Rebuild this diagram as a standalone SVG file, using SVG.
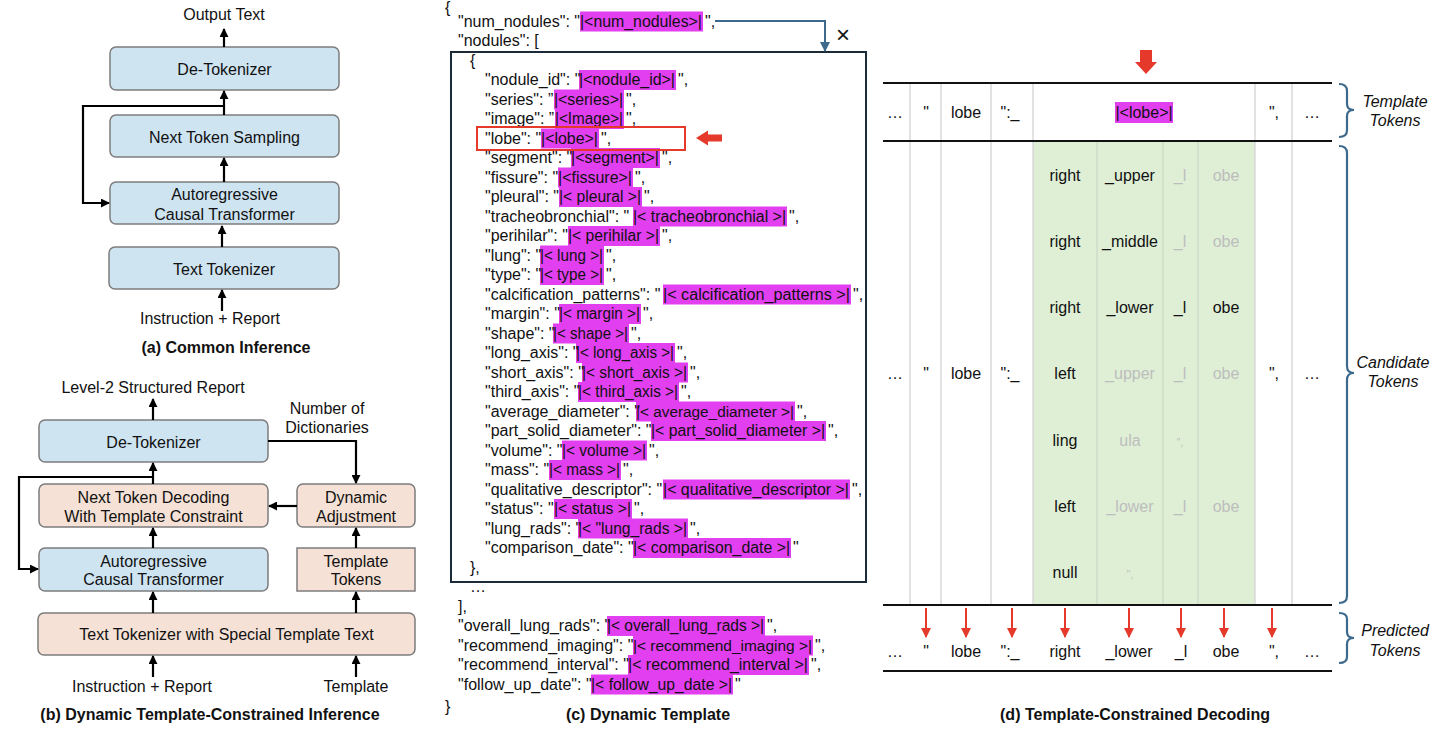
<svg xmlns="http://www.w3.org/2000/svg" width="1450" height="750" viewBox="0 0 1450 750">
<defs>
<style>
.t{font-family:"Liberation Sans",Arial,Helvetica,sans-serif;font-size:16px;fill:#111}
.c{text-anchor:middle}
.b{font-weight:bold}
.i{font-style:italic}
.s{font-size:15.2px}
.bb{fill:#cfe4f1;stroke:#7c7c7c;stroke-width:1.5}
.bp{fill:#f5e1d5;stroke:#7c7c7c;stroke-width:1.5}
.arr{stroke:#000;stroke-width:2.2;fill:none;marker-end:url(#ah)}
.hl{fill:#e13ff0}
.g{fill:#bdbdbd}
.sep{stroke:#d8d8d8;stroke-width:1.5}
.rule{stroke:#111;stroke-width:2}
.brace{stroke:#3d6a8c;stroke-width:2.2;fill:none}
.ra{stroke:#e53a2b;stroke-width:2;marker-end:url(#rah)}
</style>
<marker id="ah" viewBox="0 0 10 10" refX="9" refY="5" markerWidth="9" markerHeight="9" markerUnits="userSpaceOnUse" orient="auto"><path d="M0,0 L10,5 L0,10 z" fill="#000"/></marker>
<marker id="rah" viewBox="0 0 10 10" refX="9" refY="5" markerWidth="10" markerHeight="10" markerUnits="userSpaceOnUse" orient="auto"><path d="M0,0 L10,5 L0,10 z" fill="#e53a2b"/></marker>
<marker id="bah" viewBox="0 0 10 10" refX="9" refY="5" markerWidth="10" markerHeight="10" markerUnits="userSpaceOnUse" orient="auto"><path d="M0,0 L10,5 L0,10 z" fill="#3d6a8c"/></marker>
</defs>
<rect width="1450" height="750" fill="#fff"/>

<!-- Panel (a) -->
<g id="a-nodes">
<g id="a-output"><text class="t c" x="224" y="20">Output Text</text></g>
<g id="a-detok"><rect class="bb" x="110" y="47" width="229" height="43" rx="6"/><text class="t c" x="224.5" y="75">De-Tokenizer</text></g>
<g id="a-sampling"><rect class="bb" x="110" y="115" width="229" height="42" rx="6"/><text class="t c" x="224.5" y="143">Next Token Sampling</text></g>
<g id="a-transformer"><rect class="bb" x="110" y="182" width="229" height="42" rx="6"/><text class="t c" x="224.5" y="200">Autoregressive</text><text class="t c" x="224.5" y="220">Causal Transformer</text></g>
<g id="a-tokenizer"><rect class="bb" x="109" y="247" width="230" height="42" rx="6"/><text class="t c" x="224" y="275">Text Tokenizer</text></g>
<g id="a-input"><text class="t c" x="210" y="324">Instruction + Report</text></g>
<g id="a-caption"><text class="t c b" x="226" y="353">(a) Common Inference</text></g>
</g>
<g id="a-connectors">
<line class="arr" x1="224" y1="47" x2="224" y2="29"/>
<line class="arr" x1="224" y1="115" x2="224" y2="91"/>
<polyline class="arr" points="224,106 83,106 83,203 109,203"/>
<line class="arr" x1="224" y1="182" x2="224" y2="158"/>
<line class="arr" x1="222" y1="247" x2="222" y2="226"/>
<line class="arr" x1="222" y1="311" x2="222" y2="290"/>
</g>

<!-- Panel (b) -->
<g id="b-nodes">
<g id="b-output"><text class="t c" x="153" y="393">Level-2 Structured Report</text></g>
<g id="b-num"><text class="t c" x="327" y="414">Number of</text><text class="t c" x="327" y="433">Dictionaries</text></g>
<g id="b-detok"><rect class="bb" x="39" y="420" width="229" height="42" rx="6"/><text class="t c" x="153.5" y="448">De-Tokenizer</text></g>
<g id="b-decoding"><rect class="bp" x="39" y="484" width="229" height="43" rx="6"/><text class="t c" x="153.5" y="503">Next Token Decoding</text><text class="t c" x="153.5" y="522">With Template Constraint</text></g>
<g id="b-dynamic"><rect class="bp" x="297" y="484" width="118" height="43" rx="6"/><text class="t c" x="356" y="503">Dynamic</text><text class="t c" x="356" y="522">Adjustment</text></g>
<g id="b-transformer"><rect class="bb" x="39" y="548" width="229" height="43" rx="6"/><text class="t c" x="153.5" y="567">Autoregressive</text><text class="t c" x="153.5" y="585">Causal Transformer</text></g>
<g id="b-template-tokens"><rect class="bp" x="297" y="548" width="118" height="43"/><text class="t c" x="356" y="567">Template</text><text class="t c" x="356" y="585">Tokens</text></g>
<g id="b-tokenizer"><rect class="bp" x="38" y="613" width="377" height="42" rx="6"/><text class="t c" x="226.5" y="640">Text Tokenizer with Special Template Text</text></g>
<g id="b-input1"><text class="t c" x="142" y="692">Instruction + Report</text></g>
<g id="b-input2"><text class="t c" x="356" y="692">Template</text></g>
<g id="b-caption"><text class="t c b" x="210" y="720">(b) Dynamic Template-Constrained Inference</text></g>
</g>
<g id="b-connectors">
<line class="arr" x1="153" y1="420" x2="153" y2="399"/>
<polyline class="arr" points="268,441 356,441 356,483"/>
<line class="arr" x1="297" y1="506" x2="269" y2="506"/>
<line class="arr" x1="153" y1="484" x2="153" y2="463"/>
<polyline class="arr" points="153,477 19,477 19,569 38,569"/>
<line class="arr" x1="153" y1="548" x2="153" y2="528"/>
<line class="arr" x1="356" y1="548" x2="356" y2="528"/>
<line class="arr" x1="153" y1="613" x2="153" y2="592"/>
<line class="arr" x1="356" y1="613" x2="356" y2="592"/>
<line class="arr" x1="153" y1="677" x2="153" y2="656"/>
<line class="arr" x1="356" y1="677" x2="356" y2="656"/>
</g>

<!-- Panel (c) -->
<g id="c-template">
<rect x="451" y="52" width="415" height="530" fill="none" stroke="#1c2b3a" stroke-width="2"/>
<g id="c-highlights">
<rect class="hl" x="580" y="11.5" width="123" height="20"/>
<rect class="hl" x="579" y="70" width="97" height="20"/>
<rect class="hl" x="554" y="89.5" width="70" height="20"/>
<rect class="hl" x="555" y="109" width="69" height="20"/>
<rect class="hl" x="541" y="128.5" width="58" height="20"/>
<rect class="hl" x="571" y="148" width="89" height="20"/>
<rect class="hl" x="558" y="167.5" width="75" height="20"/>
<rect class="hl" x="559" y="187" width="83" height="20"/>
<rect class="hl" x="633" y="206.5" width="154" height="20"/>
<rect class="hl" x="568" y="226" width="92" height="20"/>
<rect class="hl" x="540" y="245.5" width="64" height="20"/>
<rect class="hl" x="540" y="265" width="64" height="20"/>
<rect class="hl" x="663" y="284.5" width="188" height="20"/>
<rect class="hl" x="559" y="304" width="82" height="20"/>
<rect class="hl" x="553" y="323.5" width="76" height="20"/>
<rect class="hl" x="576" y="343" width="99" height="20"/>
<rect class="hl" x="582" y="362.5" width="106" height="20"/>
<rect class="hl" x="578" y="382" width="101" height="20"/>
<rect class="hl" x="636" y="401.5" width="159" height="20"/>
<rect class="hl" x="651" y="421" width="175" height="20"/>
<rect class="hl" x="562" y="440.5" width="85" height="20"/>
<rect class="hl" x="549" y="460" width="72" height="20"/>
<rect class="hl" x="663" y="479.5" width="187" height="20"/>
<rect class="hl" x="554" y="499" width="78" height="20"/>
<rect class="hl" x="578" y="518.5" width="110" height="20"/>
<rect class="hl" x="633" y="538" width="158" height="20"/>
<rect class="hl" x="607" y="616" width="158" height="20"/>
<rect class="hl" x="633" y="635.5" width="180" height="20"/>
<rect class="hl" x="628" y="655" width="181" height="20"/>
<rect class="hl" x="591" y="674.5" width="142" height="20"/>
</g>
<g id="c-text" class="t">
<text class="t" x="445" y="13">{</text>
<text class="t" x="458" y="26.5">"num_nodules": "</text><text class="t" x="580" y="26.5" textLength="122" lengthAdjust="spacingAndGlyphs">|&lt;num_nodules&gt;|</text><text class="t" x="705" y="26.5">",</text>
<text class="t" x="458" y="46">"nodules": [</text>
<text class="t" x="470" y="65.5">{</text>
<text class="t" x="485" y="85">"nodule_id": "</text><text class="t" x="579" y="85" textLength="96" lengthAdjust="spacingAndGlyphs">|&lt;nodule_id&gt;|</text><text class="t" x="678" y="85">",</text>
<text class="t" x="485" y="104.5">"series": ”</text><text class="t" x="554" y="104.5" textLength="69" lengthAdjust="spacingAndGlyphs">|&lt;series&gt;|</text><text class="t" x="626" y="104.5">",</text>
<text class="t" x="485" y="124">"image": ”</text><text class="t" x="555" y="124" textLength="68" lengthAdjust="spacingAndGlyphs">|&lt;Image&gt;|</text><text class="t" x="626" y="124">",</text>
<text class="t" x="485" y="143.5">"lobe": "</text><text class="t" x="541" y="143.5" textLength="57" lengthAdjust="spacingAndGlyphs">|&lt;lobe&gt;|</text><text class="t" x="601" y="143.5">",</text>
<text class="t" x="485" y="163">"segment": "</text><text class="t" x="571" y="163" textLength="88" lengthAdjust="spacingAndGlyphs">|&lt;segment&gt;|</text><text class="t" x="662" y="163">",</text>
<text class="t" x="485" y="182.5">"fissure": "</text><text class="t" x="558" y="182.5" textLength="74" lengthAdjust="spacingAndGlyphs">|&lt;fissure&gt;|</text><text class="t" x="635" y="182.5">",</text>
<text class="t" x="485" y="202">"pleural": "</text><text class="t" x="559" y="202" textLength="82" lengthAdjust="spacingAndGlyphs">|&lt; pleural &gt;|</text><text class="t" x="644" y="202">",</text>
<text class="t" x="485" y="221.5">"tracheobronchial": "</text><text class="t" x="633" y="221.5" textLength="153" lengthAdjust="spacingAndGlyphs">|&lt; tracheobronchial &gt;|</text><text class="t" x="789" y="221.5">",</text>
<text class="t" x="485" y="241">"perihilar": "</text><text class="t" x="568" y="241" textLength="91" lengthAdjust="spacingAndGlyphs">|&lt; perihilar &gt;|</text><text class="t" x="662" y="241">",</text>
<text class="t" x="485" y="260.5">"lung": "</text><text class="t" x="540" y="260.5" textLength="63" lengthAdjust="spacingAndGlyphs">|&lt; lung &gt;|</text><text class="t" x="606" y="260.5">",</text>
<text class="t" x="485" y="280">"type": "</text><text class="t" x="540" y="280" textLength="63" lengthAdjust="spacingAndGlyphs">|&lt; type &gt;|</text><text class="t" x="606" y="280">",</text>
<text class="t" x="485" y="299.5">"calcification_patterns": "</text><text class="t" x="663" y="299.5" textLength="187" lengthAdjust="spacingAndGlyphs">|&lt; calcification_patterns &gt;|</text><text class="t" x="853" y="299.5">",</text>
<text class="t" x="485" y="319">"margin": "</text><text class="t" x="559" y="319" textLength="81" lengthAdjust="spacingAndGlyphs">|&lt; margin &gt;|</text><text class="t" x="643" y="319">",</text>
<text class="t" x="485" y="338.5">"shape": "</text><text class="t" x="553" y="338.5" textLength="75" lengthAdjust="spacingAndGlyphs">|&lt; shape &gt;|</text><text class="t" x="631" y="338.5">",</text>
<text class="t" x="485" y="358">"long_axis": "</text><text class="t" x="576" y="358" textLength="98" lengthAdjust="spacingAndGlyphs">|&lt; long_axis &gt;|</text><text class="t" x="677" y="358">",</text>
<text class="t" x="485" y="377.5">"short_axis": "</text><text class="t" x="582" y="377.5" textLength="105" lengthAdjust="spacingAndGlyphs">|&lt; short_axis &gt;|</text><text class="t" x="690" y="377.5">",</text>
<text class="t" x="485" y="397">"third_axis": "</text><text class="t" x="578" y="397" textLength="100" lengthAdjust="spacingAndGlyphs">|&lt; third_axis &gt;|</text><text class="t" x="681" y="397">",</text>
<text class="t" x="485" y="416.5">"average_diameter": "</text><text class="t s" x="636" y="416.5" textLength="158" lengthAdjust="spacingAndGlyphs">|&lt; average_diameter &gt;|</text><text class="t" x="797" y="416.5">",</text>
<text class="t" x="485" y="436">"part_solid_diameter": "</text><text class="t" x="651" y="436" textLength="174" lengthAdjust="spacingAndGlyphs">|&lt; part_solid_diameter &gt;|</text><text class="t" x="828" y="436">",</text>
<text class="t" x="485" y="455.5">"volume": "</text><text class="t" x="562" y="455.5" textLength="84" lengthAdjust="spacingAndGlyphs">|&lt; volume &gt;|</text><text class="t" x="649" y="455.5">",</text>
<text class="t" x="485" y="475">"mass": "</text><text class="t" x="549" y="475" textLength="71" lengthAdjust="spacingAndGlyphs">|&lt; mass &gt;|</text><text class="t" x="623" y="475">",</text>
<text class="t" x="485" y="494.5">"qualitative_descriptor": "</text><text class="t" x="663" y="494.5" textLength="186" lengthAdjust="spacingAndGlyphs">|&lt; qualitative_descriptor &gt;|</text><text class="t" x="852" y="494.5">",</text>
<text class="t" x="485" y="514">"status": "</text><text class="t" x="554" y="514" textLength="77" lengthAdjust="spacingAndGlyphs">|&lt; status &gt;|</text><text class="t" x="634" y="514">",</text>
<text class="t" x="485" y="533.5">"lung_rads": "</text><text class="t" x="578" y="533.5" textLength="109" lengthAdjust="spacingAndGlyphs">|&lt; "lung_rads &gt;|</text><text class="t" x="690" y="533.5">",</text>
<text class="t" x="485" y="553">"comparison_date": "</text><text class="t" x="633" y="553" textLength="157" lengthAdjust="spacingAndGlyphs">|&lt; comparison_date &gt;|</text><text class="t" x="793" y="553">"</text>
<text class="t" x="470" y="572.5">},</text>
<text class="t" x="470" y="592">…</text>
<text class="t" x="458" y="611.5">],</text>
<text class="t" x="458" y="631">"overall_lung_rads": "</text><text class="t" x="607" y="631" textLength="157" lengthAdjust="spacingAndGlyphs">|&lt; overall_lung_rads &gt;|</text><text class="t" x="767" y="631">",</text>
<text class="t" x="458" y="650.5">"recommend_imaging": "</text><text class="t s" x="633" y="650.5" textLength="179" lengthAdjust="spacingAndGlyphs">|&lt; recommend_imaging &gt;|</text><text class="t" x="815" y="650.5">",</text>
<text class="t" x="458" y="670">"recommend_interval": "</text><text class="t" x="628" y="670" textLength="180" lengthAdjust="spacingAndGlyphs">|&lt; recommend_interval &gt;|</text><text class="t" x="811" y="670">",</text>
<text class="t" x="458" y="689.5">"follow_up_date": "</text><text class="t" x="591" y="689.5" textLength="141" lengthAdjust="spacingAndGlyphs">|&lt; follow_up_date &gt;|</text><text class="t" x="735" y="689.5">"</text>
<text class="t" x="445" y="712">}</text>
</g>
<rect x="477" y="127" width="208" height="23" fill="none" stroke="#e53a2b" stroke-width="2"/>
<polygon points="696,138 708,130.5 708,134.5 722,134.5 722,141.5 708,141.5 708,145.5" fill="#e53a2b"/>
<polyline points="715,21 825,21 825,51" fill="none" stroke="#3d6a8c" stroke-width="2" marker-end="url(#bah)"/>
<text class="t" x="843" y="43" text-anchor="middle" style="font-size:24px">×</text>
<text class="t c b" x="648" y="720">(c) Dynamic Template</text>
</g>

<!-- Panel (d) -->
<g id="d-decoding">
<rect x="1033" y="141" width="222" height="464" fill="#dfefd6"/>
<g id="d-separators">
<line class="sep" x1="910" y1="83" x2="910" y2="605"/>
<line class="sep" x1="941" y1="83" x2="941" y2="605"/>
<line class="sep" x1="991" y1="83" x2="991" y2="605"/>
<line class="sep" x1="1033" y1="83" x2="1033" y2="605"/>
<line class="sep" x1="1255" y1="83" x2="1255" y2="605"/>
<line class="sep" x1="1292" y1="83" x2="1292" y2="605"/>
<line class="sep" x1="1097" y1="141" x2="1097" y2="605" style="stroke:#cfdcc8"/>
<line class="sep" x1="1163" y1="141" x2="1163" y2="605" style="stroke:#cfdcc8"/>
<line class="sep" x1="1198" y1="141" x2="1198" y2="605" style="stroke:#cfdcc8"/>
</g>
<line class="rule" x1="883" y1="83" x2="1332" y2="83"/>
<line class="rule" x1="883" y1="141" x2="1332" y2="141"/>
<line class="rule" x1="883" y1="605" x2="1332" y2="605"/>
<line class="rule" x1="883" y1="671" x2="1332" y2="671"/>
<polygon points="1140,50 1152,50 1152,62 1157,62 1146,74 1135,62 1140,62" fill="#e53a2b"/>
<g id="d-template-row">
<text class="t c" x="895" y="118">…</text>
<text class="t c" x="926" y="118">"</text>
<text class="t c" x="966" y="118">lobe</text>
<text class="t c" x="1010" y="118">":_</text>
<rect class="hl" x="1115" y="102" width="58" height="21"/>
<text class="t c" x="1144" y="118">|&lt;lobe&gt;|</text>
<text class="t c" x="1274" y="118">",</text>
<text class="t c" x="1312" y="118">…</text>
</g>
<g id="d-candidates">
<text class="t c" x="1065" y="181">right</text><text class="t c" x="1130" y="181">_upper</text><text class="t c g" x="1180" y="181">_l</text><text class="t c g" x="1226" y="181">obe</text>
<text class="t c" x="1065" y="247">right</text><text class="t c" x="1130" y="247">_middle</text><text class="t c g" x="1180" y="247">_l</text><text class="t c g" x="1226" y="247">obe</text>
<text class="t c" x="1065" y="313">right</text><text class="t c" x="1130" y="313">_lower</text><text class="t c" x="1180" y="313">_l</text><text class="t c" x="1226" y="313">obe</text>
<text class="t c" x="895" y="379">…</text><text class="t c" x="926" y="379">"</text><text class="t c" x="966" y="379">lobe</text><text class="t c" x="1010" y="379">":_</text>
<text class="t c" x="1065" y="379">left</text><text class="t c g" x="1130" y="379">_upper</text><text class="t c g" x="1180" y="379">_l</text><text class="t c g" x="1226" y="379">obe</text>
<text class="t c" x="1274" y="379">",</text><text class="t c" x="1312" y="379">…</text>
<text class="t c" x="1065" y="446">ling</text><text class="t c g" x="1130" y="446">ula</text><text class="t c g" x="1180" y="446" style="font-size:10px">",</text>
<text class="t c" x="1065" y="512">left</text><text class="t c g" x="1130" y="512">_lower</text><text class="t c g" x="1180" y="512">_l</text><text class="t c g" x="1226" y="512">obe</text>
<text class="t c" x="1065" y="578">null</text><text class="t c g" x="1130" y="578" style="font-size:10px">",</text>
</g>
<g id="d-arrows">
<line class="ra" x1="926" y1="608" x2="926" y2="637"/>
<line class="ra" x1="966" y1="608" x2="966" y2="637"/>
<line class="ra" x1="1012" y1="608" x2="1012" y2="637"/>
<line class="ra" x1="1065" y1="608" x2="1065" y2="637"/>
<line class="ra" x1="1129" y1="608" x2="1129" y2="637"/>
<line class="ra" x1="1181" y1="608" x2="1181" y2="637"/>
<line class="ra" x1="1224" y1="608" x2="1224" y2="637"/>
<line class="ra" x1="1272" y1="608" x2="1272" y2="637"/>
</g>
<g id="d-predicted-row">
<text class="t c" x="895" y="657">…</text>
<text class="t c" x="926" y="657">"</text>
<text class="t c" x="966" y="657">lobe</text>
<text class="t c" x="1010" y="657">":_</text>
<text class="t c" x="1065" y="657">right</text>
<text class="t c" x="1129" y="657">_lower</text>
<text class="t c" x="1181" y="657">_l</text>
<text class="t c" x="1226" y="657">obe</text>
<text class="t c" x="1274" y="657">",</text>
<text class="t c" x="1312" y="657">…</text>
</g>
<g id="d-braces">
<path class="brace" d="M1339,84 Q1347,84 1347,91 L1347,104 Q1347,110 1354,110 Q1347,110 1347,116 L1347,130 Q1347,137 1339,137"/>
<path class="brace" d="M1339,146 Q1347,146 1347,153 L1347,366 Q1347,373 1354,373 Q1347,373 1347,380 L1347,596 Q1347,603 1339,603"/>
<path class="brace" d="M1339,613 Q1347,613 1347,619 L1347,632 Q1347,638 1354,638 Q1347,638 1347,644 L1347,657 Q1347,663 1339,663"/>
<text class="t c i" x="1395" y="107">Template</text><text class="t c i" x="1395" y="126">Tokens</text>
<text class="t c i" x="1393" y="368">Candidate</text><text class="t c i" x="1393" y="387">Tokens</text>
<text class="t c i" x="1395" y="636">Predicted</text><text class="t c i" x="1395" y="656">Tokens</text>
</g>
<text class="t c b" x="1135" y="720">(d) Template-Constrained Decoding</text>
</g>
</svg>
